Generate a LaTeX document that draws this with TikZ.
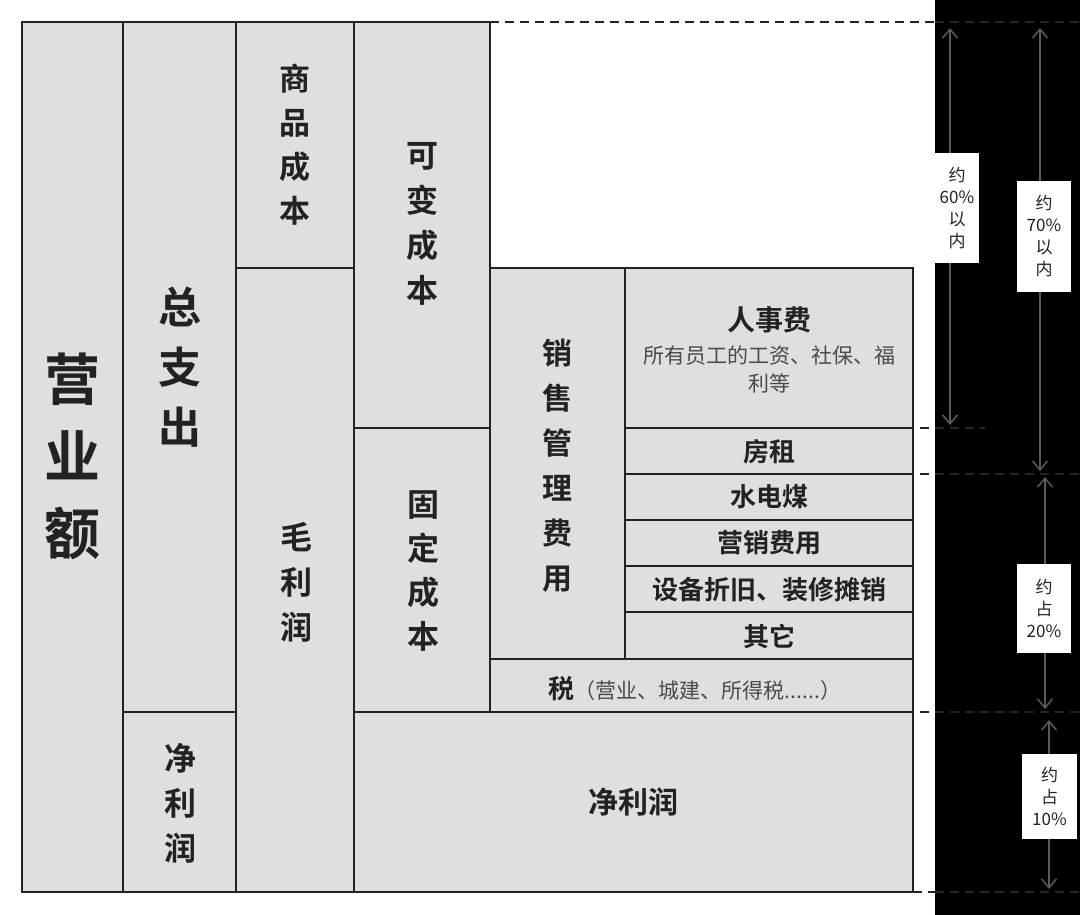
\documentclass[tikz,border=0pt]{standalone}
\usepackage{fontspec}
\setmainfont{Noto Sans CJK SC}[BoldFont={Noto Sans CJK SC Bold}]
\usetikzlibrary{arrows.meta}
\definecolor{cellfill}{HTML}{DEDFE3}
\definecolor{linec}{HTML}{222222}
\definecolor{textc}{HTML}{222222}
\definecolor{subc}{HTML}{4A4A4A}
\definecolor{arrc}{HTML}{5A5A5A}
\definecolor{faint}{HTML}{262626}
\newcommand\fsz[2]{\fontsize{#1}{#2}\selectfont}
\tikzset{
  cell/.style={fill=cellfill, draw=linec, line width=1.6pt},
  lbl/.style={inner sep=0pt, align=center, text=textc},
  dashw/.style={draw=linec, line width=1.4pt, dash pattern=on 9pt off 6pt},
  dashb/.style={draw=faint, line width=1.2pt, dash pattern=on 9pt off 6pt},
  dimarrow/.style={draw=arrc, line width=1.5pt, {Straight Barb[length=9pt,width=15pt]}-{Straight Barb[length=9pt,width=15pt]}},
  tag/.style={fill=white, inner sep=0pt, align=center, text=textc, font=\fsz{17}{22}},
}
\begin{document}
\begin{tikzpicture}[x=1pt,y=-1pt]
\useasboundingbox (0,0) rectangle (1080,915);
\fill[white] (0,0) rectangle (1080,915);
\fill[black] (935,0) rectangle (1080,915);

% cells
\draw[cell] (22,22) rectangle (123,892);
\draw[cell] (123,22) rectangle (236,712);
\draw[cell] (123,712) rectangle (236,892);
\draw[cell] (236,22) rectangle (354,268);
\draw[cell] (236,268) rectangle (354,892);
\draw[cell] (354,22) rectangle (490,428);
\draw[cell] (354,428) rectangle (490,712);
\draw[cell] (354,712) rectangle (913,892);
\draw[cell] (490,268) rectangle (625,659);
\draw[cell] (625,268) rectangle (913,428);
\draw[cell] (625,428) rectangle (913,474);
\draw[cell] (625,474) rectangle (913,520);
\draw[cell] (625,520) rectangle (913,566);
\draw[cell] (625,566) rectangle (913,612);
\draw[cell] (625,612) rectangle (913,659);
\draw[cell] (490,659) rectangle (913,712);

% labels
\node[lbl, font=\bfseries\fsz{56}{77}] (yye) at (72.5,456) {营\\业\\额};
\node[lbl, font=\bfseries\fsz{43}{60}] (zzc) at (180,367) {总\\支\\出};
\node[lbl, font=\bfseries\fsz{32}{45}] (jlr1) at (180,803) {净\\利\\润};
\node[lbl, font=\bfseries\fsz{31}{44}] (spcb) at (295,145) {商\\品\\成\\本};
\node[lbl, font=\bfseries\fsz{32}{45}] (mlr) at (296,582) {毛\\利\\润};
\node[lbl, font=\bfseries\fsz{32}{45}] (kbcb) at (422,224) {可\\变\\成\\本};
\node[lbl, font=\bfseries\fsz{32}{44}] (gdcb) at (423,571) {固\\定\\成\\本};
\node[lbl, font=\bfseries\fsz{30}{36}] (jlr2) at (633,802) {净利润};
\node[lbl, font=\bfseries\fsz{30}{45}] (xsgl) at (557,466) {销\\售\\管\\理\\费\\用};
\node[lbl, font=\bfseries\fsz{28}{34}] (rsf) at (769,320) {人事费};
\node[lbl, font=\fsz{21}{28}, text=subc] (rsfsub) at (769,369) {所有员工的工资、社保、福\\利等};
\node[lbl, font=\bfseries\fsz{26}{30}] (fz) at (769,452) {房租};
\node[lbl, font=\bfseries\fsz{26}{30}] (sdm) at (769,497) {水电煤};
\node[lbl, font=\bfseries\fsz{26}{30}] (yxfy) at (769,543) {营销费用};
\node[lbl, font=\bfseries\fsz{26}{30}] (sbzj) at (769,590) {设备折旧、装修摊销};
\node[lbl, font=\bfseries\fsz{26}{30}] (qt) at (769,636) {其它};
\node[lbl] (tax) at (695,689) {{\bfseries\fsz{26}{30}税}{\fsz{21}{28}\color{subc}（营业、城建、所得税......）}};

% dashed guide lines
\draw[dashw] (490,22) -- (935,22);
\draw[dashb] (935,22) -- (1080,22);
\draw[dashw] (860,428) -- (935,428);
\draw[dashb] (935,428) -- (985,428);
\draw[dashw] (860,474) -- (935,474);
\draw[dashb] (935,474) -- (1080,474);
\draw[dashw] (860,712) -- (935,712);
\draw[dashb] (935,712) -- (1080,712);
\draw[dashw] (913,892) -- (935,892);
\draw[dashb] (935,892) -- (1080,892);

% dimension arrows
\coordinate (a1t) at (950,28);  \coordinate (a1b) at (950,425);
\coordinate (a2t) at (1040,28); \coordinate (a2b) at (1040,471);
\coordinate (a3t) at (1045,477); \coordinate (a3b) at (1045,709);
\coordinate (a4t) at (1049,720); \coordinate (a4b) at (1049,889);
\draw[dimarrow] (a1t) -- (a1b);
\draw[dimarrow] (a2t) -- (a2b);
\draw[dimarrow] (a3t) -- (a3b);
\draw[dimarrow] (a4t) -- (a4b);

\node[tag, minimum width=44pt, minimum height=110pt] (t1) at (957,208) {约\\60\%\\以\\内};
\node[tag, minimum width=54pt, minimum height=111pt] (t2) at (1044,236.5) {约\\70\%\\以\\内};
\node[tag, minimum width=54pt, minimum height=89pt] (t3) at (1044,608.5) {约\\占\\20\%};
\node[tag, minimum width=55pt, minimum height=85pt] (t4) at (1049.5,796.5) {约\\占\\10\%};
\end{tikzpicture}
\end{document}
